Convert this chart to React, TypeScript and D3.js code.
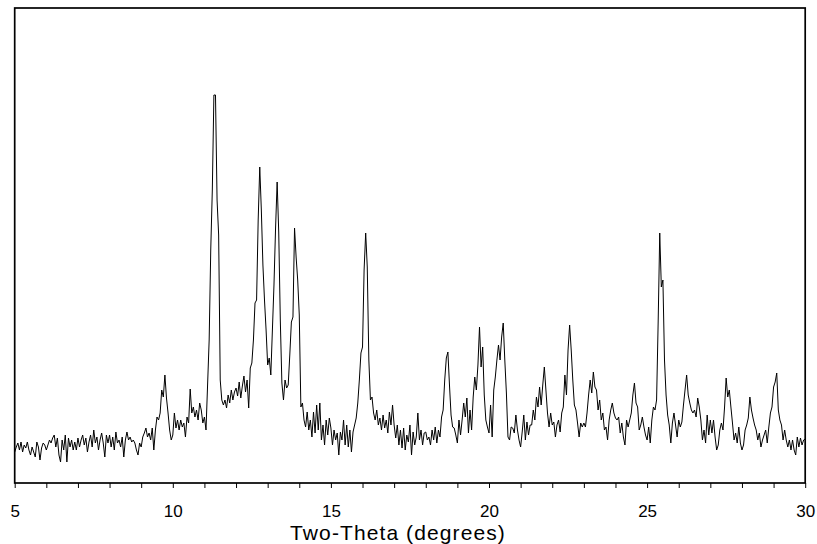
import React, { useEffect, useRef } from 'react';
import * as d3 from 'd3';

// XRD pattern: intensity counts sampled every 0.05° from 5° to 30° (2θ)
const twoThetaStart = 5;
const twoThetaStep = 0.05;
const counts: number[] = [
  // 5.00 - 5.95
  31, 36, 40, 33, 41, 31, 38, 35, 41, 33, 28, 36, 31, 26, 41, 36, 23, 35, 40, 38,
  // 6.00 - 6.95
  33, 38, 43, 40, 45, 48, 36, 45, 28, 21, 43, 33, 48, 21, 45, 36, 43, 33, 41, 33,
  // 7.00 - 7.95
  45, 36, 43, 48, 38, 45, 31, 41, 48, 36, 53, 40, 46, 33, 43, 50, 40, 26, 48, 40,
  // 8.00 - 8.95
  48, 36, 46, 33, 51, 40, 43, 36, 46, 26, 43, 51, 43, 46, 41, 43, 40, 33, 28, 40,
  // 9.00 - 9.95
  36, 46, 50, 55, 46, 50, 43, 55, 33, 53, 66, 63, 70, 93, 86, 108, 85, 70, 53, 43,
  // 10.00 - 10.95
  48, 70, 55, 63, 53, 63, 56, 60, 46, 66, 60, 94, 70, 76, 66, 73, 63, 80, 73, 60,
  // 11.00 - 11.95
  66, 53, 98, 143, 233, 293, 388, 388, 283, 248, 103, 83, 78, 83, 75, 88, 80, 93, 83, 91,
  // 12.00 - 12.95
  95, 87, 101, 85, 97, 107, 91, 103, 75, 115, 120, 143, 180, 183, 263, 316, 273, 218, 183, 153,
  // 13.00 - 13.95
  118, 125, 108, 153, 198, 255, 301, 251, 163, 100, 83, 103, 95, 98, 128, 161, 166, 255, 226, 203,
  // 14.00 - 14.95
  168, 76, 80, 63, 56, 71, 53, 63, 46, 71, 50, 78, 53, 80, 43, 58, 38, 63, 48, 65,
  // 15.00 - 15.95
  55, 38, 53, 43, 50, 28, 51, 43, 63, 38, 58, 36, 53, 31, 51, 58, 65, 80, 103, 130,
  // 16.00 - 16.95
  136, 213, 250, 216, 123, 83, 86, 70, 63, 73, 58, 65, 53, 68, 55, 63, 50, 71, 58, 78,
  // 17.00 - 17.95
  58, 45, 58, 38, 53, 35, 55, 33, 48, 41, 58, 28, 51, 38, 46, 70, 43, 53, 38, 50,
  // 18.00 - 18.95
  51, 43, 46, 38, 53, 43, 56, 40, 53, 46, 66, 73, 103, 125, 131, 98, 68, 56, 55, 48,
  // 19.00 - 19.95
  40, 63, 48, 63, 80, 66, 85, 50, 73, 53, 86, 106, 93, 118, 156, 116, 136, 88, 63, 56,
  // 20.00 - 20.95
  50, 78, 46, 93, 106, 123, 138, 123, 146, 160, 123, 90, 46, 43, 56, 55, 50, 68, 53, 43,
  // 21.00 - 21.95
  36, 51, 68, 43, 61, 48, 58, 58, 73, 63, 86, 76, 96, 78, 98, 116, 93, 70, 56, 70,
  // 22.00 - 22.95
  58, 61, 46, 58, 63, 51, 70, 76, 108, 88, 133, 158, 133, 103, 78, 73, 60, 46, 60, 56,
  // 23.00 - 23.95
  60, 56, 70, 88, 103, 90, 111, 96, 93, 73, 83, 63, 70, 53, 56, 43, 63, 73, 80, 70,
  // 24.00 - 24.95
  65, 63, 66, 50, 60, 46, 38, 63, 56, 63, 70, 88, 100, 80, 76, 53, 58, 66, 56, 48,
  // 25.00 - 25.95
  43, 56, 40, 63, 76, 73, 83, 161, 250, 196, 203, 123, 88, 68, 58, 40, 60, 70, 58, 46,
  // 26.00 - 26.95
  63, 56, 61, 78, 93, 108, 88, 80, 73, 70, 73, 66, 85, 76, 63, 43, 53, 40, 68, 48,
  // 27.00 - 27.95
  63, 50, 63, 46, 33, 38, 53, 60, 53, 76, 105, 86, 93, 76, 60, 43, 50, 40, 56, 40,
  // 28.00 - 28.95
  33, 38, 53, 58, 65, 86, 73, 65, 58, 53, 43, 50, 36, 43, 48, 53, 40, 56, 70, 76,
  // 29.00 - 30.00
  96, 101, 110, 73, 63, 58, 43, 53, 43, 36, 43, 33, 43, 33, 28, 46, 36, 45, 38, 43, 44,
];

const xDomain = [5, 30];
const yDomain = [0, 475];
const minorTicks = [5, 6, 7, 8, 9, 10, 11, 12, 13, 14, 15, 16, 17, 18, 19, 20, 21, 22, 23, 24, 25, 26, 27, 28, 29, 30];
const labelTicks = [5, 10, 15, 20, 25, 30];
const xTitle = 'Two-Theta (degrees)';

export default function App() {
  const ref = useRef<SVGSVGElement | null>(null);

  useEffect(() => {
    const svg = d3.select(ref.current);
    svg.selectAll('*').remove();

    const left = 14.7, right = 805.2, top = 8, bottom = 483;
    const x = d3.scaleLinear().domain(xDomain).range([left, right]);
    const y = d3.scaleLinear().domain(yDomain).range([bottom, top]);

    const data = counts.map((c, i) => ({ t: twoThetaStart + i * twoThetaStep, c }));

    const line = d3
      .line<{ t: number; c: number }>()
      .x((d) => x(d.t))
      .y((d) => y(d.c));

    svg
      .append('path')
      .datum(data)
      .attr('d', line)
      .attr('fill', 'none')
      .attr('stroke', '#000')
      .attr('stroke-width', 1)
      .attr('stroke-linejoin', 'miter');

    // frame
    svg
      .append('rect')
      .attr('x', left)
      .attr('y', top)
      .attr('width', right - left)
      .attr('height', bottom - top)
      .attr('fill', 'none')
      .attr('stroke', '#000')
      .attr('stroke-width', 1.7);

    const axis = d3
      .axisBottom(x)
      .tickValues(minorTicks)
      .tickSizeInner(5)
      .tickSizeOuter(0)
      .tickPadding(8)
      .tickFormat((d) => (labelTicks.includes(d as number) ? String(d) : ''));

    const g = svg.append('g').attr('transform', `translate(0,${bottom})`).call(axis);
    g.select('.domain').remove();
    g.selectAll('line').attr('stroke', '#000').attr('stroke-width', 1);
    g.selectAll('text')
      .attr('fill', '#000')
      .style('font-family', '"Liberation Sans", Arial, sans-serif')
      .style('font-size', '17px')
      .attr('dy', null)
      .attr('y', 34);

    svg
      .append('text')
      .attr('x', 398)
      .attr('y', 540)
      .attr('text-anchor', 'middle')
      .style('font-family', '"Liberation Sans", Arial, sans-serif')
      .style('font-size', '21px')
      .style('letter-spacing', '1.1px')
      .attr('fill', '#000')
      .text(xTitle);
  }, []);

  return (
    <svg
      ref={ref}
      width={817}
      height={544}
      style={{ position: 'absolute', left: 0, top: 0, background: '#fff' }}
    />
  );
}
